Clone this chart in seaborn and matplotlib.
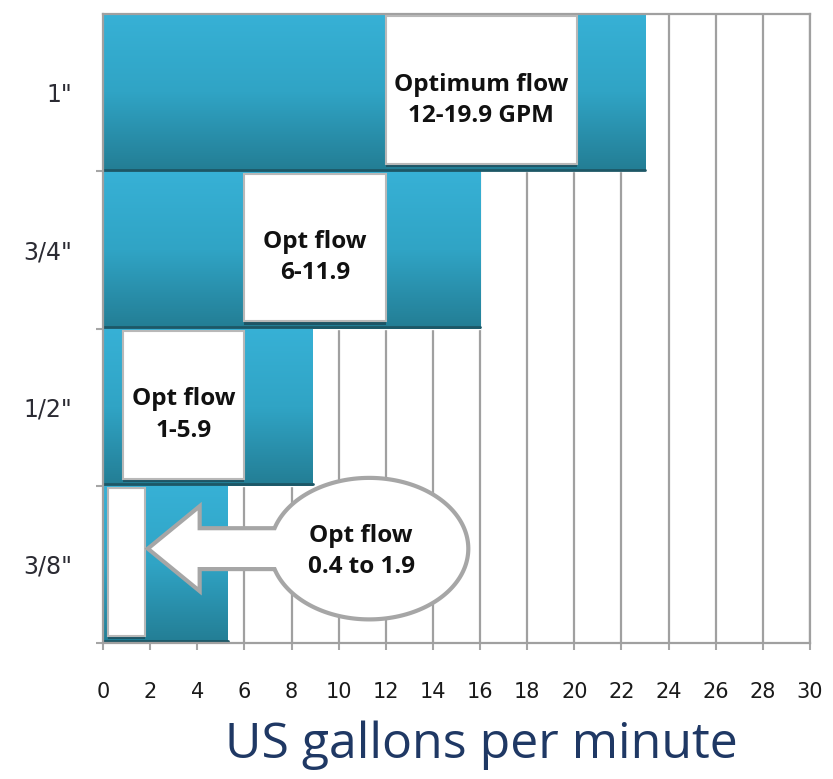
import numpy as np
import pandas as pd
import seaborn as sns
import matplotlib.pyplot as plt
from matplotlib.patches import Rectangle, Polygon
from matplotlib.colors import LinearSegmentedColormap

# data
sizes = ['1"', '3/4"', '1/2"', '3/8"']
max_flow = [23.0, 16.0, 8.9, 5.3]
opt_lo = [12.0, 6.0, 0.85, 0.2]
opt_hi = [20.1, 12.0, 6.0, 1.8]
opt_text = ['Optimum flow\n12-19.9 GPM', 'Opt flow\n6-11.9', 'Opt flow\n1-5.9', 'Opt flow\n0.4 to 1.9']
x_ticks = list(range(0, 31, 2))

df = pd.DataFrame({'size': sizes, 'gpm': max_flow})

sns.set_style('white')
plt.rcParams['font.family'] = ['DejaVu Sans']

fig = plt.figure(figsize=(8.33, 7.79), dpi=100)
ax = fig.add_axes([0.1237, 0.1746, 0.8487, 0.8074])

sns.barplot(data=df, x='gpm', y='size', order=sizes, orient='h', width=1.0,
            color='#2e9bbb', ax=ax, zorder=2)

# vertical gradient on each bar
cmap = LinearSegmentedColormap.from_list('teal', ['#37b1d6', '#30a4c5', '#237d94'])
grad = np.linspace(0, 1, 256).reshape(-1, 1)
for p in list(ax.patches):
    x0, y0, w, h = p.get_x(), p.get_y(), p.get_width(), p.get_height()
    ax.imshow(grad, cmap=cmap, aspect='auto', extent=(x0, x0 + w, y0 + h, y0),
              zorder=2.1, interpolation='bicubic')
    ax.plot([x0, x0 + w], [y0 + h - 0.01, y0 + h - 0.01], color='#1d5766', lw=2, zorder=2.2)
    p.set_facecolor('none')

ax.set_xlim(0, 30)
ax.set_ylim(3.5, -0.5)

# optimum flow boxes
for i in range(4):
    lo, hi = opt_lo[i], opt_hi[i]
    ax.add_patch(Rectangle((lo, i - 0.465), hi - lo, 0.94, fc='#1d5566', ec='none', zorder=3))
    ax.add_patch(Rectangle((lo, i - 0.485), hi - lo, 0.94, fc='white', ec='#b8b8b8', lw=1.5, zorder=3.1))
    if i < 3:
        ax.text((lo + hi) / 2, i + 0.05, opt_text[i], ha='center', va='center', fontsize=17.5,
                fontweight='bold', family='Open Sans', color='#111111', linespacing=1.4, zorder=5)

# callout for the 3/8" row
cx, cy, a, b = 11.3, 2.9, 4.2, 0.45
s, hh, base, tip = 0.13, 0.27, 4.1, opt_hi[3] + 0.1
phi = np.arcsin(s / b)
t = np.linspace(np.pi - phi, -np.pi + phi, 200)
pts = list(zip(cx + a * np.cos(t), cy + b * np.sin(t)))
pts += [(base, cy - s), (base, cy - hh), (tip, cy), (base, cy + hh), (base, cy + s)]
ax.add_patch(Polygon(pts, closed=True, fc='white', ec='#a6a6a6', lw=3, zorder=4))
ax.text(cx - 0.35, cy + 0.02, opt_text[3], ha='center', va='center', fontsize=17.5,
        fontweight='bold', family='Open Sans', color='#111111', linespacing=1.4, zorder=5)

# axes styling
ax.set_xticks(x_ticks)
ax.set_yticks(range(4))
ax.set_yticklabels(sizes)
ax.set_yticks([0.5, 1.5, 2.5, 3.5], minor=True)
ax.grid(axis='x', color='#a0a0a0', lw=1.6, zorder=0)
ax.set_axisbelow(True)
ax.tick_params(axis='y', which='major', length=0, pad=22, labelsize=17, labelcolor='#2b2b33')
ax.tick_params(axis='y', which='minor', length=5, width=1.5, color='#a6a6a6', left=True)
ax.tick_params(axis='x', length=5, width=1.5, color='#a6a6a6', pad=23, labelsize=15,
               labelcolor='#1a1a1a', bottom=True)
ax.set_xlabel('')
ax.set_ylabel('')
for sp in ax.spines.values():
    sp.set_color('#a0a0a0')
    sp.set_linewidth(1.6)

fig.text(0.578, 0.043, 'US gallons per minute', ha='center', va='center', fontsize=36,
         color='#1f3864', family='Open Sans')

fig.savefig('out.png', dpi=100)
